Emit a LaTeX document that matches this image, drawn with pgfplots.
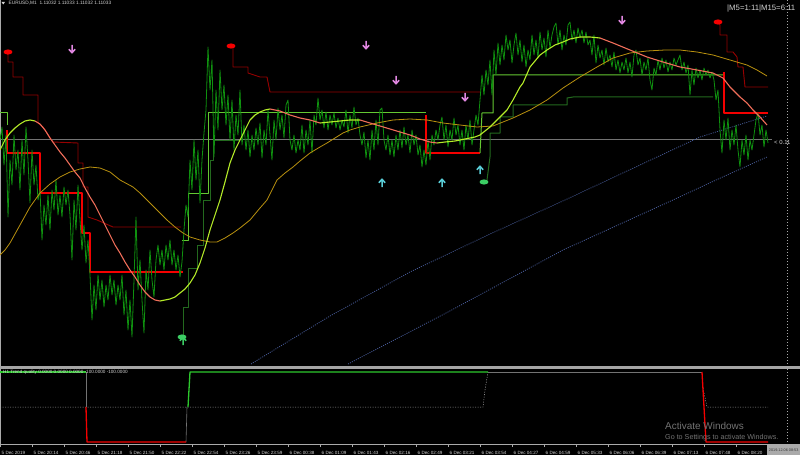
\documentclass[border=0pt]{standalone}
\usepackage{pgfplots}
\pgfplotsset{compat=1.18}
\usepackage{fontspec}
\setmainfont{Liberation Sans}
\definecolor{price}{RGB}{15,145,15}
\definecolor{limec}{RGB}{180,235,40}
\definecolor{salmon}{RGB}{240,110,90}
\definecolor{olivec}{RGB}{185,145,15}
\definecolor{dred}{RGB}{150,0,0}
\definecolor{bred}{RGB}{245,0,0}
\definecolor{lgreen}{RGB}{100,200,50}
\definecolor{dgreen}{RGB}{35,105,30}
\definecolor{dblue}{RGB}{70,90,150}
\definecolor{bidgrey}{RGB}{115,115,115}
\definecolor{sepgrey}{RGB}{165,165,165}
\definecolor{txt}{RGB}{210,210,210}
\definecolor{pinkc}{RGB}{225,135,225}
\definecolor{cyanc}{RGB}{90,205,215}
\definecolor{garr}{RGB}{60,205,100}
\definecolor{tickgrey}{RGB}{170,170,170}
\definecolor{wm}{RGB}{115,115,115}
\definecolor{lgr}{RGB}{45,200,45}
\pgfdeclareplotmark{darr}{%
 \pgfpathmoveto{\pgfpoint{0pt}{4.2pt}}\pgfpathlineto{\pgfpoint{0pt}{-3.6pt}}%
 \pgfpathmoveto{\pgfpoint{-3.2pt}{-0.2pt}}\pgfpathlineto{\pgfpoint{0pt}{-3.8pt}}\pgfpathlineto{\pgfpoint{3.2pt}{-0.2pt}}%
 \pgfusepathqstroke}
\pgfdeclareplotmark{uarr}{%
 \pgfpathmoveto{\pgfpoint{0pt}{-4.2pt}}\pgfpathlineto{\pgfpoint{0pt}{3.6pt}}%
 \pgfpathmoveto{\pgfpoint{-3.2pt}{0.2pt}}\pgfpathlineto{\pgfpoint{0pt}{3.8pt}}\pgfpathlineto{\pgfpoint{3.2pt}{0.2pt}}%
 \pgfusepathqstroke}
\pgfdeclareplotmark{blob}{%
 \pgfpathellipse{\pgfpointorigin}{\pgfpoint{4.5pt}{0pt}}{\pgfpoint{0pt}{2.6pt}}\pgfusepathqfill}
\begin{document}
\begin{tikzpicture}
\fill[black] (0,0) rectangle (800bp,455bp);
\begin{axis}[
 at={(0bp,11bp)}, anchor=south west,
 scale only axis, width=800bp, height=444bp,
 xmin=0, xmax=800, ymin=0, ymax=444, y dir=reverse,
 clip=false,
 axis line style={draw=none},
 ytick=\empty,
 xtick={0,32,...,736},
 xticklabels={5 Dec 2019,5 Dec 20:14,5 Dec 20:46,5 Dec 21:18,5 Dec 21:50,5 Dec 22:22,5 Dec 22:54,5 Dec 23:26,5 Dec 23:59,6 Dec 00:38,6 Dec 01:09,6 Dec 01:43,6 Dec 02:16,6 Dec 02:49,6 Dec 03:21,6 Dec 03:54,6 Dec 04:27,6 Dec 04:59,6 Dec 05:33,6 Dec 06:06,6 Dec 06:39,6 Dec 07:13,6 Dec 07:48,6 Dec 08:20},
 xticklabel style={font=\fontsize{4.6}{5}\selectfont, text=txt, anchor=base west, inner sep=0pt, xshift=1.5bp, yshift=-7.5bp},
 major tick length=3bp, tick align=outside, tick style={tickgrey, line width=0.5bp},
 every axis plot/.append style={line join=round},
]
% frame lines
\addplot[bidgrey, line width=0.6bp] coordinates {(0,139) (772,139)};
\addplot[tickgrey, line width=0.6bp] coordinates {(0.5,0) (0.5,444)};
\addplot[sepgrey, line width=2.6bp] coordinates {(0,367.5) (800,367.5)};
\addplot[tickgrey, line width=0.7bp] coordinates {(0,444) (767,444)};
\addplot[tickgrey, line width=0.5bp, dash pattern=on 1.5bp off 1.5bp] coordinates {(787,0) (787,444)};
% blue dotted channel
\addplot[dblue, line width=0.8bp, dash pattern=on 1bp off 1.2bp] coordinates {(251,364) (330,316) (410,272) (490,234) (565,200) (640,165) (700,137) (767,116)};
\addplot[dblue, line width=0.8bp, dash pattern=on 1bp off 1.2bp] coordinates {(348,364) (448,312) (563,250) (673,200) (716,180) (767,157)};
% dark red steps
\addplot[dred, line width=0.9bp] coordinates {(7,52) (8,55) (8,62) (13,62) (13,77) (23,77) (23,95) (38,95) (38,123) (43,127) (53,142) (78,143) (78,163) (83,163) (83,187) (88,187) (88,217) (97,220) (113,227) (181,227)};
\addplot[dred, line width=0.9bp] coordinates {(231,46) (233,47) (233,67) (248,67) (248,73) (260,77) (267,77) (270,92) (480,92)};
\addplot[dred, line width=0.9bp] coordinates {(718,22) (720,25) (720,35) (727,35) (727,52) (733,52) (737,57) (738,67) (743,67) (745,87) (768,87)};
% bright red steps
\addplot[bred, line width=1.3bp] coordinates {(7,130) (7,153) (40,153) (40,193) (82,193) (82,233) (90,233) (90,272) (183,272)};
\addplot[bred, line width=1.3bp] coordinates {(426,115) (426,153) (480,153)};
\addplot[bred, line width=1.3bp] coordinates {(724,72) (724,113) (768,113)};
% green steps
\addplot[lgreen, line width=1bp] coordinates {(0,113) (7,113) (7,125)};
\addplot[lgreen, line width=1bp] coordinates {(182,240) (188,240) (188,193) (208,193) (208,113) (426,113)};
\addplot[lgreen, line width=1bp] coordinates {(480,153) (482,113) (493,113) (493,75) (723,75)};
\addplot[dgreen, line width=1bp] coordinates {(183,335) (183,307) (188,307) (188,268) (197,268) (197,245) (203,245) (203,200) (210,200) (210,160) (213,160) (213,140) (240,140)};
\addplot[dgreen, line width=1bp] coordinates {(487,180) (490,157) (490,133) (500,133) (500,117) (513,117) (513,105) (567,105) (567,98) (573,97) (713,97)};
% price
\addplot[price, line width=0.8bp] coordinates {
(0,140) (2,127) (4,165) (6,135) (8,217) (10,160) (12,185) (14,135) (16,170) (18,150) (20,190) (22,140) (24,175) (26,127) (28,160) (30,203) (32,150) (34,185) (36,165) (38,200) (40,190) (42,240) (44,205) (46,225) (48,195) (50,230) (52,190) (54,210) (56,180) (58,215) (60,195) (62,217) (64,187) (66,205) (68,190) (70,215) (72,260) (74,200) (76,230) (78,185) (80,220) (82,250) (84,225) (86,263) (88,240) (90,275) (92,320) (94,285) (96,310) (98,275) (100,300) (102,280) (104,307) (106,285) (108,300) (110,275) (112,295) (114,280) (116,305) (118,285) (120,300) (122,275) (124,315) (126,290) (128,330) (130,300) (132,337) (134,280) (136,217) (138,290) (140,260) (142,300) (144,333) (146,270) (148,290) (150,250) (152,280) (154,297) (156,260) (158,245) (160,265) (162,250) (164,270) (166,245) (168,260) (170,240) (172,265) (174,250) (176,270) (178,255) (180,277) (182,262) (184,230) (186,205) (188,217) (190,160) (192,190) (194,140) (196,180) (198,150) (200,203) (202,160) (204,133) (206,110) (208,47) (210,90) (212,60) (214,157) (216,90) (218,130) (220,70) (222,110) (224,85) (226,125) (228,95) (230,140) (232,100) (234,150) (236,115) (238,135) (240,90) (242,145) (244,125) (246,150) (248,130) (250,157) (252,135) (254,150) (256,128) (258,145)
(260,123) (262,158) (264,130) (266,145) (268,110) (270,135) (272,160) (274,120) (276,140) (278,108) (280,130) (282,115) (284,138) (286,105) (288,100) (290,140) (292,150) (294,135) (296,153) (298,140) (300,150) (302,125) (304,153) (306,130) (308,145) (310,120) (312,153) (314,115) (316,125) (318,98) (320,120) (322,110) (324,128) (326,112) (328,130) (330,115) (332,125) (334,113) (336,128) (338,118) (340,130) (342,120) (344,127) (346,110) (348,133) (350,115) (352,128) (354,107) (356,125) (358,118) (360,135) (362,145) (364,132) (366,158) (368,140) (370,160) (372,130) (374,150) (376,120) (378,145) (380,110) (382,108) (384,140) (386,150) (388,135) (390,155) (392,140) (394,157) (396,135) (398,150) (400,130) (402,148) (404,127) (406,145) (408,135) (410,153) (412,130) (414,145) (416,135) (418,155) (420,145) (422,167) (424,150) (426,165) (428,140) (430,160) (432,135) (434,145) (436,130) (438,140) (440,125) (442,117) (444,140) (446,125) (448,147) (450,130) (452,140) (454,118) (456,135) (458,125) (460,145) (462,130) (464,150) (466,125) (468,140) (470,120) (472,145) (474,130) (476,115) (478,125) (480,100) (482,75) (484,95) (486,70) (488,85) (490,60) (492,95) (494,50) (496,75) (498,43) (500,65) (502,45) (504,60) (506,35) (508,50) (510,40) (512,63) (514,45) (516,33) (518,55)
(520,40) (522,62) (524,45) (526,67) (528,50) (530,60) (532,35) (534,55) (536,40) (538,58) (540,32) (542,50) (544,38) (546,57) (548,30) (550,48) (552,35) (554,27) (556,23) (558,45) (560,30) (562,50) (564,35) (566,45) (568,25) (570,22) (572,40) (574,30) (576,43) (578,28) (580,38) (582,30) (584,43) (586,32) (588,45) (590,40) (592,55) (594,35) (596,63) (598,45) (600,58) (602,50) (604,65) (606,48) (608,62) (610,55) (612,67) (614,52) (616,70) (618,60) (620,73) (622,62) (624,70) (626,58) (628,73) (630,62) (632,77) (634,55) (636,50) (638,65) (640,58) (642,75) (644,62) (646,70) (648,58) (650,80) (652,90) (654,68) (656,75) (658,60) (660,70) (662,58) (664,68) (666,60) (668,72) (670,62) (672,70) (674,58) (676,65) (678,60) (680,55) (682,70) (684,62) (686,73) (688,65) (690,95) (692,70) (694,85) (696,68) (698,78) (700,70) (702,80) (704,68) (706,75) (708,70) (710,78) (712,72) (714,80) (716,100) (718,90) (720,130) (722,153) (724,120) (726,140) (728,118) (730,150) (732,130) (734,145) (736,125) (738,150) (740,167) (742,140) (744,155) (746,135) (748,160) (750,140) (752,150) (754,135) (756,120) (758,113) (760,135) (762,125) (764,147) (766,130) (768,143)};
% slow curve
\addplot[olivec, line width=0.8bp] coordinates {(0,255) (5,250) (10,243) (20,225) (30,207) (40,193) (50,184) (60,177) (70,172) (80,169) (90,167) (100,168) (110,172) (120,180) (133,187) (140,193) (150,203) (160,213) (167,220) (175,227) (183,233) (190,237) (200,240) (210,242) (217,242) (225,238) (233,233) (240,228) (250,220) (260,208) (267,200) (277,180) (285,173) (293,167) (300,161) (310,153) (320,147) (327,143) (335,138) (343,133) (350,130) (360,127) (377,123) (393,120) (410,119) (427,120) (443,123) (460,125) (477,127) (493,126) (513,118) (530,110) (547,100) (563,88) (580,77) (597,67) (613,58) (630,53) (647,51) (665,50) (680,50) (697,52) (713,55) (730,60) (747,65) (757,70) (767,76)};
% fast curve
\pgfplotsset{fastc/.style={line width=1.1bp}}
\addplot[limec, fastc] coordinates {(0,150) (5,140) (10,133) (15,128) (20,124) (25,121) (30,120) (35,121)};
\addplot[salmon, fastc] coordinates {(35,121) (40,124) (45,130) (50,138) (55,145) (60,152) (65,158) (70,165) (75,172) (80,178) (85,188) (90,197) (95,205) (100,215) (105,225) (110,235) (115,245) (120,253) (125,262) (130,270) (135,277) (140,285) (145,292) (150,297) (155,300) (160,301)};
\addplot[limec, fastc] coordinates {(160,301) (165,300) (170,299) (175,297) (180,293) (185,289) (190,283) (195,275) (200,263) (205,248) (210,230) (215,215) (220,200) (225,182) (230,163) (235,150) (240,140) (245,130) (250,120) (255,115) (260,112) (265,110) (270,109)};
\addplot[salmon, fastc] coordinates {(270,109) (280,111) (290,115) (300,118) (310,120) (320,123)};
\addplot[limec, fastc] coordinates {(320,123) (330,122) (340,121) (350,120) (360,120)};
\addplot[salmon, fastc] coordinates {(360,120) (370,123) (380,126) (390,129) (400,132) (410,135) (420,139) (430,142) (437,143)};
\addplot[limec, fastc] coordinates {(437,143) (445,142) (455,141) (465,139) (475,137) (480,135) (490,127) (500,117) (507,110) (513,100) (520,87) (523,83) (530,67) (540,55) (547,50) (555,45) (563,42) (570,39) (580,37) (590,37) (600,38)};
\addplot[salmon, fastc] coordinates {(600,38) (613,43) (630,50) (647,57) (663,62) (680,67) (697,70) (713,73) (723,78) (730,87) (740,97) (747,103) (753,110) (760,117) (767,125)};
% signals
\addplot[only marks, mark=darr, pinkc, mark options={line width=1.5bp}] coordinates {(72,49) (366,45) (396,80) (465,97) (622,20)};
\addplot[only marks, mark=uarr, cyanc, mark options={line width=1.5bp}] coordinates {(382,183) (442,183) (480,170)};
\addplot[only marks, mark=uarr, garr, mark options={line width=1.5bp}] coordinates {(183,341)};
\addplot[only marks, mark=blob, garr] coordinates {(182,337) (484,182)};
\addplot[only marks, mark=blob, bred] coordinates {(8,52) (231,46) (718,22)};
% lower panel
\addplot[tickgrey, line width=0.5bp, dash pattern=on 1bp off 1.5bp] coordinates {(0,407) (483,407) (485,390) (488,372)};
\addplot[tickgrey, line width=0.5bp, dash pattern=on 1bp off 1.5bp] coordinates {(703,388) (707,407) (768,407)};
\addplot[bidgrey, line width=0.6bp] coordinates {(86,372) (86,407)};
\addplot[bidgrey, line width=0.6bp] coordinates {(186,442) (187,407)};
\addplot[bidgrey, line width=0.6bp] coordinates {(488,372) (702,372)};
\addplot[lgr, line width=1.3bp] coordinates {(0,372) (86,372)};
\addplot[bred, line width=1.3bp] coordinates {(86,407) (87,442) (186,442)};
\addplot[lgr, line width=1.3bp] coordinates {(188,407) (190,372) (488,372)};
\addplot[bred, line width=1.3bp] coordinates {(702,372) (704,407) (706,442) (768,442)};
% texts
\fill[txt] (axis cs:1.5,2) -- (axis cs:5,2) -- (axis cs:3.25,4.5) -- cycle;
\node[anchor=west, inner sep=0pt, text=txt, font=\fontsize{4.8}{5}\selectfont] at (axis cs:8.5,3.5) {EURUSD,M1\ \ 1.11032 1.11033 1.11032 1.11033};
\node[anchor=west, inner sep=0pt, text=txt, font=\fontsize{7.8}{8}\selectfont] at (axis cs:727,9) {|M5=1:11|M15=6:11};
\node[anchor=west, inner sep=0pt, text=txt, font=\fontsize{6}{7}\selectfont] at (axis cs:774,142.5) {<\ 0.11};
\node[anchor=west, inner sep=0pt, text=txt, font=\fontsize{4.65}{5}\selectfont] at (axis cs:3,372) {H1 Trend quality 0.0000 0.0000 0.0000 -100.0000 -100.0000};
\node[anchor=west, inner sep=0pt, text=wm, font=\fontsize{10}{11}\selectfont] at (axis cs:665,426) {Activate Windows};
\node[anchor=west, inner sep=0pt, text=wm, font=\fontsize{7.2}{8}\selectfont] at (axis cs:665,437.5) {Go to Settings to activate Windows.};
\node[anchor=north west, inner xsep=0.8bp, inner ysep=0pt, minimum height=11bp, minimum width=33bp, fill=tickgrey, text=black!80, font=\fontsize{3.8}{4}\selectfont] at (axis cs:767,444) {2019.12.06 08:53};
\end{axis}
\pgfresetboundingbox
\path[use as bounding box] (0,0) rectangle (800bp,455bp);
\end{tikzpicture}
\end{document}
